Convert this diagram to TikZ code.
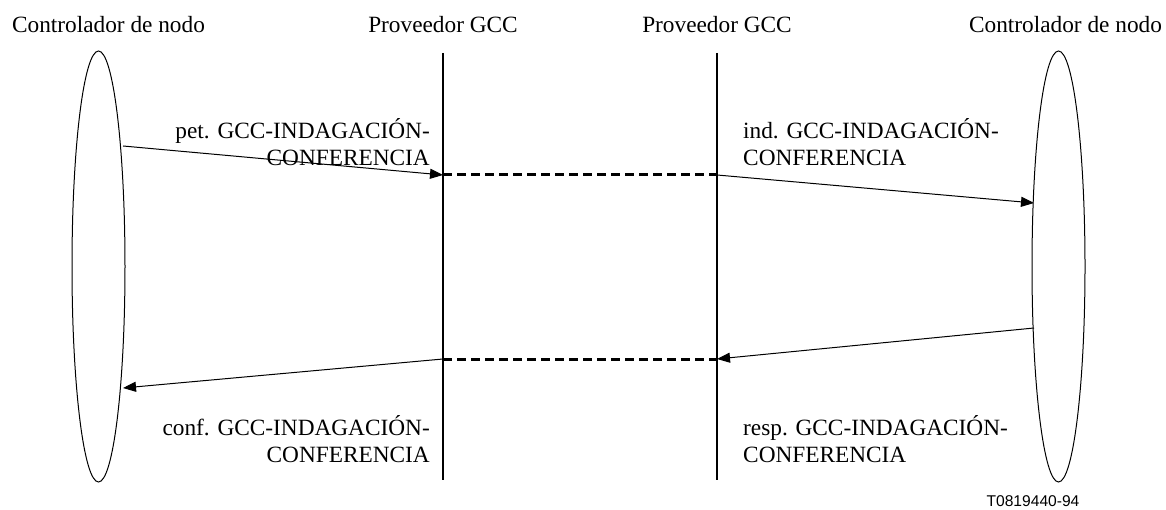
\documentclass[tikz,border=0pt]{standalone}
\usepackage{fontspec}
\setmainfont{Liberation Serif}
\setsansfont{Liberation Sans}
\usetikzlibrary{arrows.meta,shapes.geometric}

\tikzset{
  nodectrl/.style={draw, ellipse, line width=1pt, minimum width=53pt, minimum height=431pt, inner sep=0pt},
  lifeline/.style={line width=2pt},
  relay/.style={line width=3pt, dash pattern=on 9pt off 5pt},
  msg/.style={line width=1pt, -{Triangle[length=13pt,width=10pt]}},
  msglabel/.style={font=\fontsize{23.3}{27}\selectfont, inner sep=0pt},
}

\begin{document}
\begin{tikzpicture}[x=1pt, y=-1pt]
\useasboundingbox (0,0) rectangle (1166,510);

% entities
\node[nodectrl] (ctrlA) at (98.5,266.5) {};
\node[nodectrl] (ctrlB) at (1058.5,266.5) {};
\node[msglabel, anchor=base] (titleA) at (108.5,33) {Controlador de nodo};
\node[msglabel, anchor=base] (titleB) at (443,33) {Proveedor GCC};
\node[msglabel, anchor=base] (titleC) at (717,33) {Proveedor GCC};
\node[msglabel, anchor=base] (titleD) at (1065.5,33) {Controlador de nodo};

% provider lifelines
\coordinate (gccA-top) at (443,53);
\coordinate (gccA-bot) at (443,480);
\coordinate (gccB-top) at (717,53);
\coordinate (gccB-bot) at (717,480);
\draw[lifeline] (gccA-top) -- (gccA-bot);
\draw[lifeline] (gccB-top) -- (gccB-bot);

% message end points
\coordinate (petS) at (123,146);
\coordinate (petE) at (443,175);
\coordinate (indS) at (717,175);
\coordinate (indE) at (1034,203);
\coordinate (respS) at (1034,328);
\coordinate (respE) at (717,359);
\coordinate (confS) at (443,359);
\coordinate (confE) at (123,388);

\draw[relay] (petE) -- (indS);
\draw[relay] (confS) -- (respE);
\draw[msg] (petS) -- (petE);
\draw[msg] (indS) -- (indE);
\draw[msg] (respS) -- (respE);
\draw[msg] (confS) -- (confE);

% primitives (base = last line)
\node[msglabel, align=right, anchor=base east] (petL) at (430,166) {pet. GCC-INDAGACIÓN-\\CONFERENCIA};
\node[msglabel, align=left, anchor=base west] (indL) at (743,166) {ind. GCC-INDAGACIÓN-\\CONFERENCIA};
\node[msglabel, align=right, anchor=base east] (confL) at (430,462) {conf. GCC-INDAGACIÓN-\\CONFERENCIA};
\node[msglabel, align=left, anchor=base west] (respL) at (743,462) {resp. GCC-INDAGACIÓN-\\CONFERENCIA};

\node[font=\sffamily\fontsize{15.6}{18}\selectfont, inner sep=0pt, anchor=base] (figid) at (1033,506) {T0819440-94};
\end{tikzpicture}
\end{document}
